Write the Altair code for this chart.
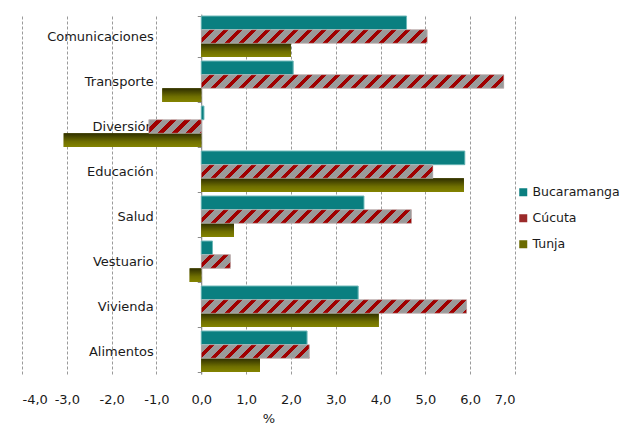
import altair as alt
import pandas as pd
import math

categories = ["Comunicaciones", "Transporte", "Diversión", "Educación",
              "Salud", "Vestuario", "Vivienda", "Alimentos"]
cities = ["Bucaramanga", "Cúcuta", "Tunja"]
bucaramanga = [4.58, 2.05, 0.06, 5.88, 3.63, 0.25, 3.50, 2.36]
cucuta = [5.04, 6.75, -1.17, 5.17, 4.69, 0.65, 5.92, 2.41]
tunja = [2.00, -0.87, -3.07, 5.86, 0.73, -0.26, 3.96, 1.31]
x_ticks = [-4, -3, -2, -1, 0, 1, 2, 3, 4, 5, 6, 7]

rows = []
for i, c in enumerate(categories):
    for city, vals in zip(cities, [bucaramanga, cucuta, tunja]):
        rows.append({"cat": c, "city": city, "value": vals[i]})
df = pd.DataFrame(rows)

W, H = 493, 360
XMIN, XMAX = -4, 7
pxu = W / (XMAX - XMIN)
bar_h = H / len(categories) * 0.91 / 3
FONT = "DejaVu Sans"

base = alt.Chart(df).encode(
    x=alt.X("value:Q",
            scale=alt.Scale(domain=[XMIN, XMAX], nice=False, zero=False),
            axis=alt.Axis(values=x_ticks, grid=True, gridDash=[3, 2], gridColor="#9a9a9a",
                          domain=False, ticks=False, labelPadding=19, labelFontSize=13,
                          labelFont=FONT, labelColor="#1a1a1a",
                          labelExpr="replace(replace(format(datum.value, '.1f'), '.', ','), '\u2212', '-')",
                          title="%", titleFont=FONT, titleFontSize=13, titleFontWeight="normal",
                          titleColor="#1a1a1a", titlePadding=6)),
    y=alt.Y("cat:N", sort=categories,
            scale=alt.Scale(paddingInner=0.09, paddingOuter=0.045),
            axis=alt.Axis(title=None, offset=-(0 - XMIN) * pxu, tickBand="extent",
                          tickSize=4, labelPadding=44, labelFontSize=13, labelFont=FONT,
                          labelColor="#1a1a1a", domainColor="#8c8c8c", tickColor="#8c8c8c",
                          grid=False)),
    yOffset=alt.YOffset("city:N", sort=cities, scale=alt.Scale(domain=cities, paddingInner=0, paddingOuter=0)),
)

main = base.mark_bar().encode(
    color=alt.Color("city:N", sort=cities,
                    scale=alt.Scale(domain=cities, range=["#0a7f80", "#9b2a2a", "#6b6b00"]),
                    legend=alt.Legend(orient="none", legendX=495, legendY=172, title=None,
                                      symbolType="square", symbolSize=64, labelFontSize=12.5,
                                      labelFont=FONT, labelColor="#1a1a1a", rowPadding=13,
                                      labelOffset=3, padding=0))
)

tunja_grad = alt.Gradient(gradient="linear",
                          stops=[alt.GradientStop(color="#2e2e00", offset=0),
                                 alt.GradientStop(color="#6e6e00", offset=0.6),
                                 alt.GradientStop(color="#848400", offset=1)],
                          x1=0, x2=0, y1=0, y2=1)
layers = [main,
          base.mark_bar(fill="#0a7f80", stroke="#6fb8b8", strokeWidth=1)
              .transform_filter("datum.city == 'Bucaramanga'"),
          base.mark_bar(fill=tunja_grad).transform_filter("datum.city == 'Tunja'")]

PERIOD = 14.0
GRAY, RED = "#9a9a9a", "#a00000"
for i, c in enumerate(categories):
    v = cucuta[i]
    bw = abs(v) * pxu
    L = bw + bar_h
    a = L / (bw * bw + bar_h * bar_h)
    n = int(math.ceil(L / PERIOD)) + 1
    stops = []
    for k in range(n):
        o0 = k * PERIOD / L
        o1 = (k + 0.6) * PERIOD / L
        o2 = (k + 1) * PERIOD / L
        for off, col in [(o0, GRAY), (o1, GRAY), (o1, RED), (o2, RED)]:
            stops.append(alt.GradientStop(color=col, offset=min(off, 1.0)))
    grad = alt.Gradient(gradient="linear", stops=stops, x1=0, y1=0, x2=bw * a, y2=bar_h * a)
    layers.append(base.mark_bar(fill=grad, stroke="#c8c8c8", strokeWidth=0.6).transform_filter(
        f"datum.city == 'Cúcuta' && datum.cat == '{c}'"))

chart = alt.layer(*layers).properties(
    width=W, height=H,
    autosize=alt.AutoSizeParams(type="none"),
    padding={"left": 22, "top": 14, "right": 107, "bottom": 52},
).configure_view(stroke=None)

chart.save("out.html", embed_options={"renderer": "svg", "actions": False})
